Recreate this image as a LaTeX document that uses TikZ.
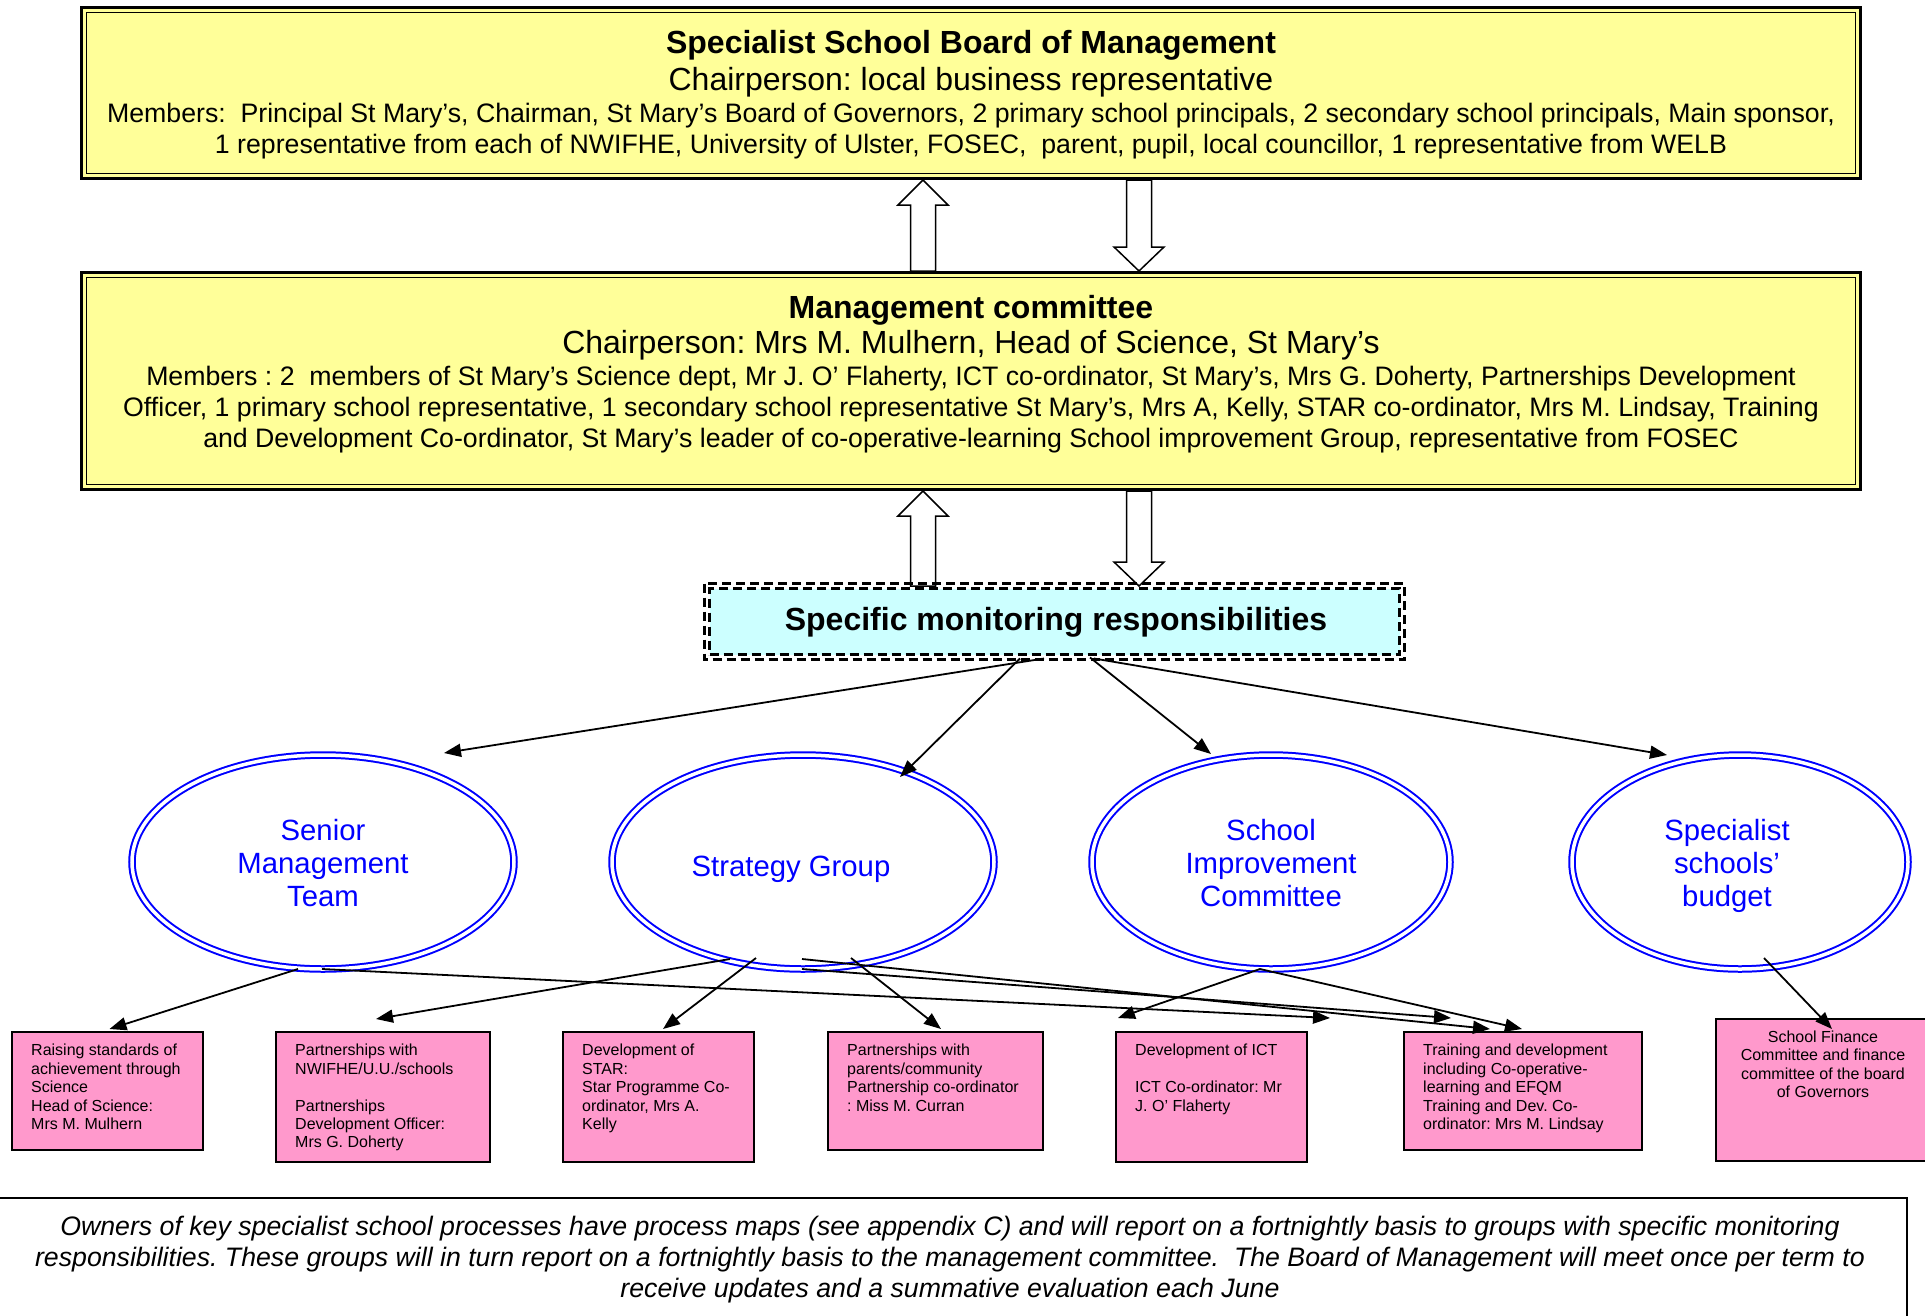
\documentclass[tikz,border=0pt]{standalone}
\usepackage{fontspec}
\setmainfont{Liberation Sans}
\usetikzlibrary{shapes.geometric,arrows.meta,calc}
\definecolor{boardyellow}{HTML}{FFFF99}
\definecolor{monitorcyan}{HTML}{CCFFFF}
\definecolor{taskpink}{HTML}{FF99CC}
\definecolor{ovalblue}{HTML}{0000FF}
\frenchspacing
\tikzset{
  yellowbox/.style={rectangle, draw=black, line width=3pt, fill=boardyellow, inner sep=0pt, outer sep=0pt},
  innerframe/.style={draw=black, line width=1.3pt},
  titletext/.style={anchor=base, inner sep=0pt, font=\fontsize{32}{37}\selectfont\bfseries},
  chairtext/.style={anchor=base, inner sep=0pt, font=\fontsize{32}{37}\selectfont},
  membertext/.style={anchor=base, inner sep=0pt, font=\fontsize{26.7}{31}\selectfont},
  hollowarrow/.style={draw=black, line width=1.5pt, fill=white, line join=miter},
  monitorbox/.style={rectangle, draw=black, dash pattern=on 9pt off 5pt, line width=2.5pt, fill=monitorcyan, inner sep=0pt, outer sep=0pt},
  monitorframe/.style={draw=black, dash pattern=on 9pt off 5pt, line width=2.5pt},
  oval/.style={ellipse, draw=ovalblue, double=white, double distance=3.5pt, line width=2pt, inner sep=0pt, outer sep=0pt},
  ovaltext/.style={anchor=north, inner sep=0pt, align=center, text=ovalblue, font=\fontsize{29.3}{33}\selectfont},
  taskbox/.style={rectangle, draw=black, line width=2pt, fill=taskpink, inner sep=0pt, outer sep=0pt},
  tasktext/.style={anchor=north west, inner sep=0pt, align=left, font=\fontsize{16}{18.4}\selectfont},
  link/.style={line width=1.8pt, -{Triangle[length=17pt,width=13pt]}},
  notebox/.style={rectangle, draw=black, line width=2pt, inner sep=0pt, outer sep=0pt},
  notetext/.style={anchor=north, inner sep=0pt, align=center, font=\fontsize{26.7}{31}\selectfont\itshape},
}
\begin{document}
\frenchspacing
\begin{tikzpicture}[x=1pt,y=-1pt]
\useasboundingbox (0,0) rectangle (1925,1315);
\fill[white] (0,0) rectangle (1925,1315);

% ---------- Board of Management ----------
\node[yellowbox, minimum width=1779pt, minimum height=171pt] (board) at (971,93) {};
\draw[innerframe] ([shift={(5,5)}]board.north west) rectangle ([shift={(-5,-5)}]board.south east);
\node[titletext] (boardtitle) at (971,53) {Specialist School Board of Management};
\node[chairtext] (boardchair) at (971,90) {Chairperson: local business representative};
\node[membertext] (boardmembersA) at (971,122) {Members:\ \ Principal St Mary’s, Chairman, St Mary’s Board of Governors, 2 primary school principals, 2 secondary school principals, Main sponsor,};
\node[membertext] (boardmembersB) at (971,153) {1 representative from each of NWIFHE, University of Ulster, FOSEC,\ \ parent, pupil, local councillor, 1 representative from WELB};

% ---------- Management committee ----------
\node[yellowbox, minimum width=1779pt, minimum height=217pt] (mgmt) at (971,381) {};
\draw[innerframe] ([shift={(5,5)}]mgmt.north west) rectangle ([shift={(-5,-5)}]mgmt.south east);
\node[titletext] (mgmttitle) at (971,318) {Management committee};
\node[chairtext] (mgmtchair) at (971,353) {Chairperson: Mrs M. Mulhern, Head of Science, St Mary’s};
\node[membertext] (mgmtmembersA) at (971,385) {Members : 2\ \ members of St Mary’s Science dept, Mr J. O’ Flaherty, ICT co-ordinator, St Mary’s, Mrs G. Doherty, Partnerships Development};
\node[membertext] (mgmtmembersB) at (971,416) {Officer, 1 primary school representative, 1 secondary school representative St Mary’s, Mrs A, Kelly, STAR co-ordinator, Mrs M. Lindsay, Training};
\node[membertext] (mgmtmembersC) at (971,447) {and Development Co-ordinator, St Mary’s leader of co-operative-learning School improvement Group, representative from FOSEC};

% ---------- block arrows ----------
\coordinate (uptipA) at (923,180);
\draw[hollowarrow] (uptipA) -- ++(25,25) -- ++(-12.5,0) -- ++(0,66) -- ++(-25,0) -- ++(0,-66) -- ++(-12.5,0) -- cycle;
\coordinate (downtopA) at (1139,180);
\draw[hollowarrow] (downtopA) ++(-12.5,0) -- ++(25,0) -- ++(0,67) -- ++(12.5,0) -- ++(-25,24) -- ++(-25,-24) -- ++(12.5,0) -- cycle;
\coordinate (uptipB) at (923,491);
\draw[hollowarrow] (uptipB) -- ++(25,25) -- ++(-12.5,0) -- ++(0,70) -- ++(-25,0) -- ++(0,-70) -- ++(-12.5,0) -- cycle;
\coordinate (downtopB) at (1139,491);
\draw[hollowarrow] (downtopB) ++(-12.5,0) -- ++(25,0) -- ++(0,71) -- ++(12.5,0) -- ++(-25,24) -- ++(-25,-24) -- ++(12.5,0) -- cycle;

% ---------- Specific monitoring responsibilities ----------
\node[monitorbox, minimum width=690pt, minimum height=66pt] (smr) at (1054.5,621.5) {};
\draw[monitorframe] ([shift={(-5,-5)}]smr.north west) rectangle ([shift={(5,5)}]smr.south east);
\node[titletext] (smrtitle) at (1056,630) {Specific monitoring responsibilities};

% ---------- ovals ----------
\node[oval, minimum width=382pt, minimum height=214pt] (smt) at (323,862) {};
\node[oval, minimum width=382pt, minimum height=214pt] (sg) at (803,862) {};
\node[oval, minimum width=358pt, minimum height=214pt] (sic) at (1271,862) {};
\node[oval, minimum width=336pt, minimum height=214pt] (ssb) at (1740,862) {};
\node[ovaltext] (smtlabel) at (323,819) {Senior\\Management\\Team};
\node[ovaltext, anchor=base] (sglabel) at (791,876) {Strategy Group};
\node[ovaltext] (siclabel) at (1271,819) {School\\Improvement\\Committee};
\node[ovaltext] (ssblabel) at (1727,819) {Specialist\\schools’\\budget};

% ---------- task boxes ----------
\node[taskbox, minimum width=191pt, minimum height=118pt] (task1) at (107.5,1091) {};
\node[taskbox, minimum width=214pt, minimum height=130pt] (task2) at (383,1097) {};
\node[taskbox, minimum width=191pt, minimum height=130pt] (task3) at (658.5,1097) {};
\node[taskbox, minimum width=215pt, minimum height=118pt] (task4) at (935.5,1091) {};
\node[taskbox, minimum width=191pt, minimum height=130pt] (task5) at (1211.5,1097) {};
\node[taskbox, minimum width=238pt, minimum height=118pt] (task6) at (1523,1091) {};
\node[taskbox, minimum width=214pt, minimum height=142pt] (task7) at (1823,1090) {};

\node[tasktext] (task1text) at ([shift={(19,12)}]task1.north west) {Raising standards of\\achievement through\\Science\\Head of Science:\\Mrs M. Mulhern};
\node[tasktext] (task2text) at ([shift={(19,12)}]task2.north west) {Partnerships with\\NWIFHE/U.U./schools\\[18.4pt]Partnerships\\Development Officer:\\Mrs G. Doherty};
\node[tasktext] (task3text) at ([shift={(19,12)}]task3.north west) {Development of\\STAR:\\Star Programme Co-\\ordinator, Mrs A.\\Kelly};
\node[tasktext] (task4text) at ([shift={(19,12)}]task4.north west) {Partnerships with\\parents/community\\Partnership co-ordinator\\: Miss M. Curran};
\node[tasktext] (task5text) at ([shift={(19,12)}]task5.north west) {Development of ICT\\[18.4pt]ICT Co-ordinator: Mr\\J. O’ Flaherty};
\node[tasktext] (task6text) at ([shift={(19,12)}]task6.north west) {Training and development\\including Co-operative-\\learning and EFQM\\Training and Dev. Co-\\ordinator: Mrs M. Lindsay};
\node[tasktext, anchor=north, align=center] (task7text) at ([shift={(0,11.5)}]task7.north) {School Finance\\Committee and finance\\committee of the board\\of Governors};

% ---------- connectors ----------
\draw[link] ($(smr.south)+(-10.5,4)$) -- ($(smt.center)+(121,-109)$);
\draw[link] ($(smr.south)+(-34.5,4)$) -- ($(sg.center)+(97,-85)$);
\draw[link] ($(smr.south)+(35.5,3)$) -- ($(sic.center)+(-60,-108)$);
\draw[link] ($(smr.south)+(39.5,4)$) -- ($(ssb.center)+(-73,-107)$);

\draw[link] ($(smt.center)+(-25,107)$) -- ($(task1.north)+(2,-3)$);
\draw[link] ($(smt.center)+(-1,107)$) -- ($(task6.north)+(-193,-14)$);
\draw[link] ($(sg.center)+(-73,97)$) -- ($(task2.north)+(-7,-13)$);
\draw[link] ($(sg.center)+(-47,96)$) -- ($(task3.north)+(4.5,-3)$);
\draw[link] ($(sg.center)+(48,96)$) -- ($(task4.north)+(5.5,-3)$);
\draw[link] ($(sg.center)+(-1,97)$) -- ($(task6.north)+(-33,-3)$);
\draw[link] ($(sg.center)+(-1,107)$) -- ($(task6.north)+(-72,-14)$);
\draw[link] ($(sic.center)+(-11,107)$) -- ($(task5.north)+(-93.5,-14)$);
\draw[link] ($(sic.center)+(-11,107)$) -- ($(task6.north)+(-1,-3)$);
\draw[link] ($(ssb.center)+(24,96)$) -- ($(task7.north)+(9,10)$);

% ---------- note ----------
\node[notebox, minimum width=1912pt, minimum height=130pt] (note) at (951,1263) {};
\node[notetext] (notetext) at (950,1215.5) {Owners of key specialist school processes have process maps (see appendix C) and will report on a fortnightly basis to groups with specific monitoring\\responsibilities. These groups will in turn report on a fortnightly basis to the management committee.\ \ The Board of Management will meet once per term to\\receive updates and a summative evaluation each June};
\end{tikzpicture}
\end{document}
